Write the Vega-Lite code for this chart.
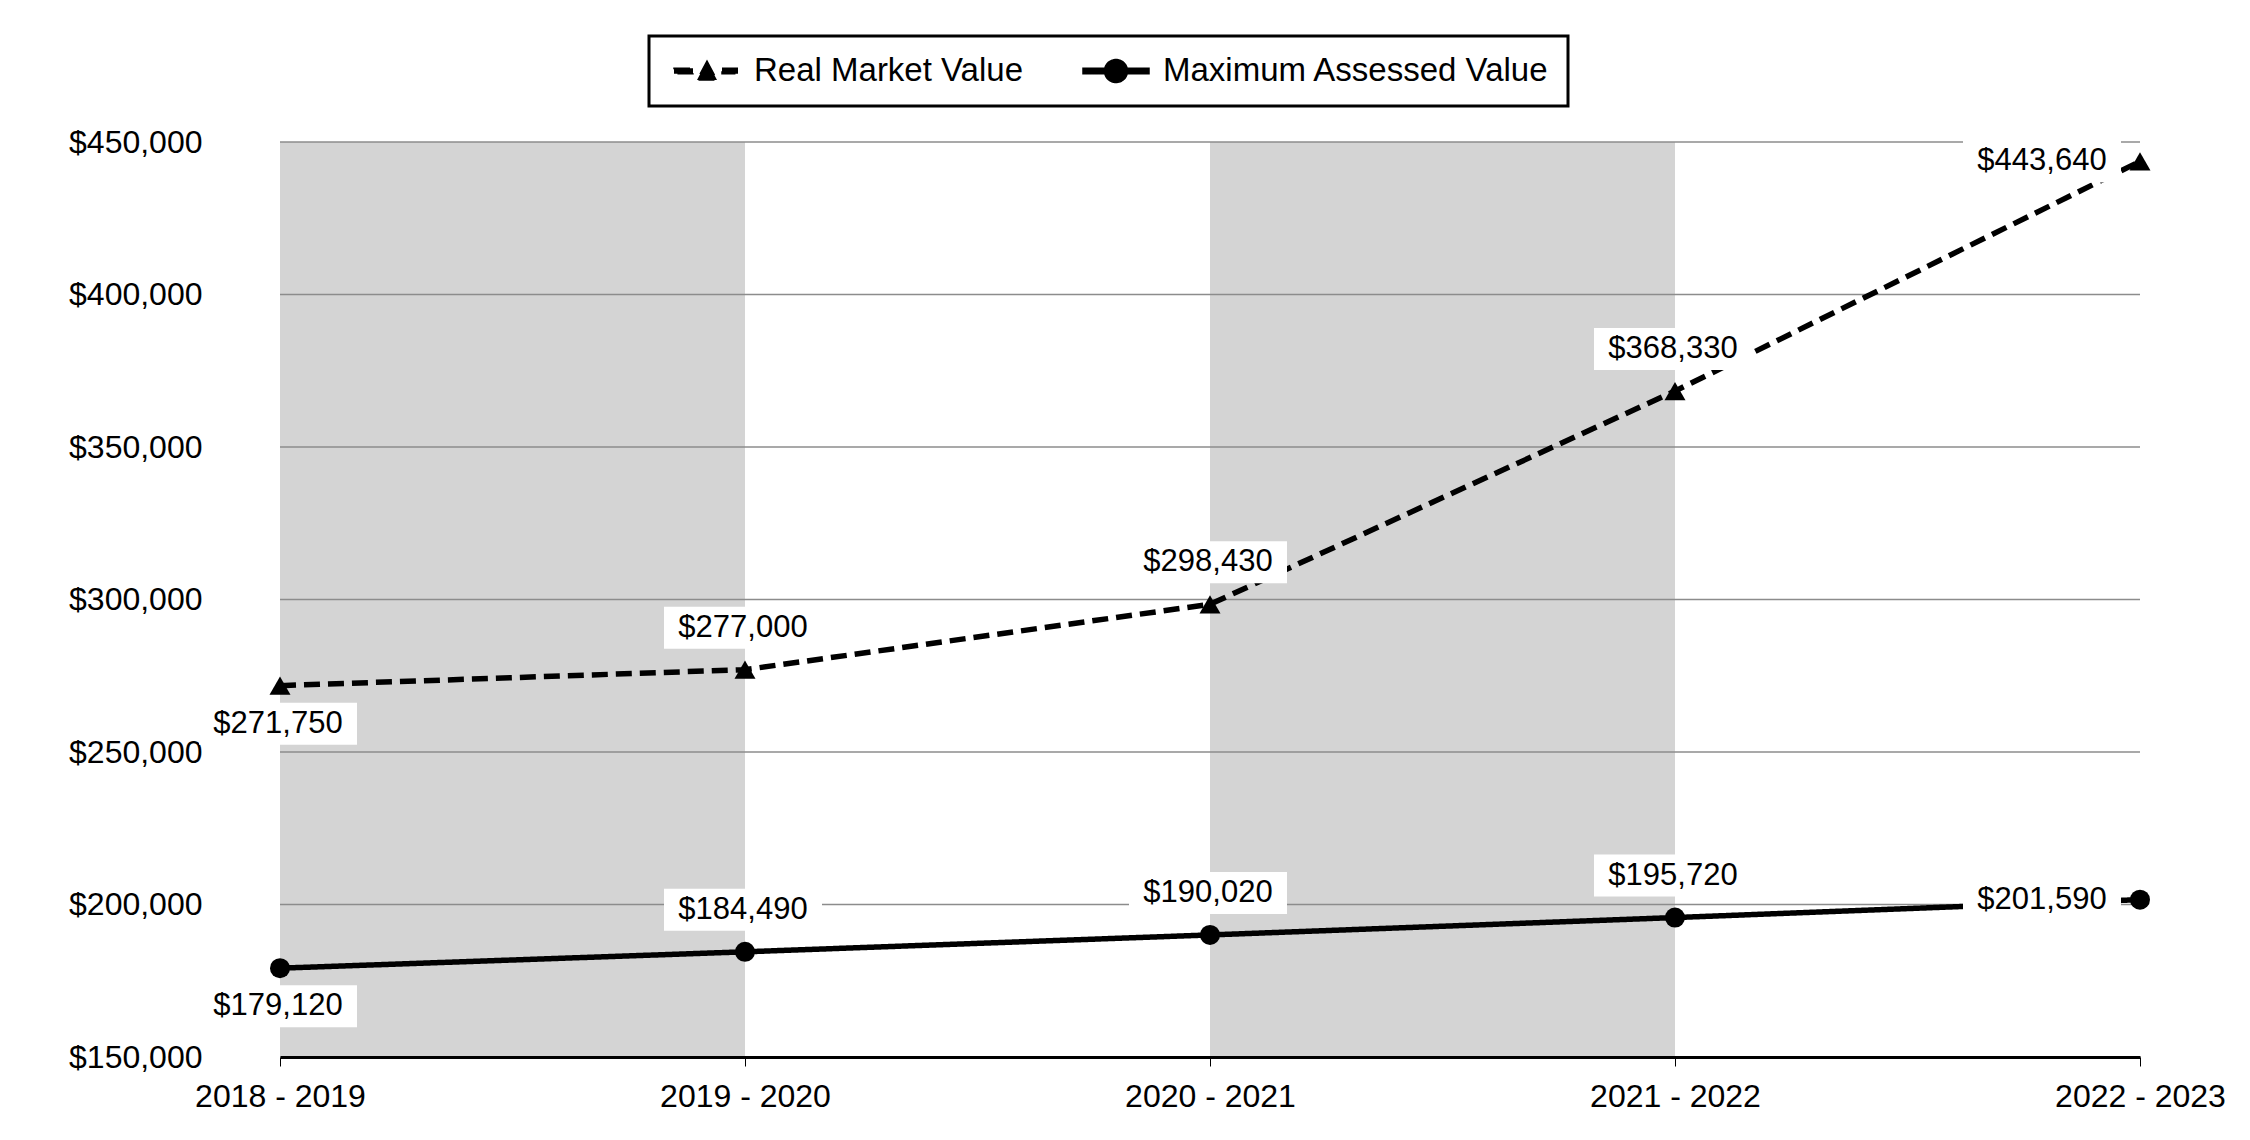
{
  "$schema": "https://vega.github.io/schema/vega-lite/v6.json",
  "width": 1860,
  "height": 915,
  "autosize": {"type": "none"},
  "padding": {"left": 280, "top": 142, "right": 110, "bottom": 83},
  "background": "white",
  "config": {
    "view": {"stroke": null},
    "font": "Liberation Sans",
    "axisX": {"labelAngle": 0, "grid": false, "domainColor": "black", "domainWidth": 3, "tickColor": "black", "tickSize": 9, "tickWidth": 1, "labelFontSize": 32, "labelPadding": 15, "labelFont": "Liberation Sans", "labelColor": "black", "labelOverlap": false, "labelBound": false, "labelFlush": false},
    "axisY": {"domain": false, "ticks": false, "tickSize": 0, "grid": false, "labelPadding": 78, "labelFontSize": 32, "labelFont": "Liberation Sans", "labelColor": "black", "labelOverlap": false, "labelBound": false}
  },
  "datasets": {
    "vals": [
      {"year": "2018 - 2019", "series": "Real Market Value", "value": 271750},
      {"year": "2019 - 2020", "series": "Real Market Value", "value": 277000},
      {"year": "2020 - 2021", "series": "Real Market Value", "value": 298430},
      {"year": "2021 - 2022", "series": "Real Market Value", "value": 368330},
      {"year": "2022 - 2023", "series": "Real Market Value", "value": 443640},
      {"year": "2018 - 2019", "series": "Maximum Assessed Value", "value": 179120},
      {"year": "2019 - 2020", "series": "Maximum Assessed Value", "value": 184490},
      {"year": "2020 - 2021", "series": "Maximum Assessed Value", "value": 190020},
      {"year": "2021 - 2022", "series": "Maximum Assessed Value", "value": 195720},
      {"year": "2022 - 2023", "series": "Maximum Assessed Value", "value": 201590}
    ],
    "bands": [
      {"year": "2018 - 2019", "year2": "2019 - 2020"},
      {"year": "2020 - 2021", "year2": "2021 - 2022"}
    ],
    "grid": [
      {"value": 200000}, {"value": 250000}, {"value": 300000}, {"value": 350000}, {"value": 400000}, {"value": 450000}
    ]
  },
  "layer": [
    {
      "data": {"name": "bands"},
      "mark": {"type": "rect", "color": "#d4d4d4"},
      "encoding": {
        "x": {"field": "year", "type": "ordinal", "scale": {"type": "point", "padding": 0, "domain": ["2018 - 2019", "2019 - 2020", "2020 - 2021", "2021 - 2022", "2022 - 2023"]}, "axis": {"title": null}},
        "x2": {"field": "year2"},
        "y": {"value": 0},
        "y2": {"value": "height"}
      }
    },
    {
      "data": {"name": "grid"},
      "mark": {"type": "rule", "color": "#8c8c8c", "strokeWidth": 1.3},
      "encoding": {
        "y": {"field": "value", "type": "quantitative", "scale": {"domain": [150000, 450000], "nice": false, "zero": false}, "axis": {"title": null, "format": "$,.0f", "values": [150000, 200000, 250000, 300000, 350000, 400000, 450000]}}
      }
    },
    {
      "data": {"name": "vals"},
      "mark": {"type": "line", "strokeWidth": 5.5, "strokeCap": "butt"},
      "encoding": {
        "x": {"field": "year", "type": "ordinal", "scale": {"type": "point", "padding": 0, "domain": ["2018 - 2019", "2019 - 2020", "2020 - 2021", "2021 - 2022", "2022 - 2023"]}, "axis": {"title": null}},
        "y": {"field": "value", "type": "quantitative", "scale": {"domain": [150000, 450000], "nice": false, "zero": false}, "axis": {"title": null, "format": "$,.0f", "values": [150000, 200000, 250000, 300000, 350000, 400000, 450000]}},
        "color": {
          "field": "series", "type": "nominal",
          "scale": {"domain": ["Real Market Value", "Maximum Assessed Value"], "range": ["black", "black"]},
          "legend": {
            "title": null, "orient": "none", "legendX": 369, "legendY": -106, "direction": "horizontal",
            "labelFontSize": 33, "labelFont": "Liberation Sans", "labelColor": "black", "labelBaseline": "middle", "labelLimit": 800,
            "symbolSize": 1024, "labelOffset": 53, "columnPadding": 52, "padding": 18,
            "strokeColor": "black", "fillColor": "white",
            "encode": {
              "legend": {"update": {"strokeWidth": {"value": 3}, "width": {"value": 917}}},
              "symbols": {"update": {
                "fill": {"value": "black"},
                "stroke": {"value": "transparent"},
                "strokeDash": {"value": [1, 0]},
                "opacity": {"value": 1},
                "shape": [
                  {"test": "datum.value === 'Real Market Value'", "value": "M-0.625,-0.17H0.5625V0.17H-0.625Z M1.4375,-0.625L2.0625,0.5625L0.8125,0.5625Z M2.375,-0.17H3.375V0.17H2.375Z"},
                  {"value": "M-0.625,-0.17H0.8V0.17H-0.625Z M2.08,-0.17H3.5V0.17H2.08Z M0.7187,0A0.7187,0.7187 0 1,1 2.1562,0A0.7187,0.7187 0 1,1 0.7187,0Z"}
                ]
              }}
            }
          }
        },
        "strokeDash": {
          "field": "series", "type": "nominal",
          "scale": {"domain": ["Real Market Value", "Maximum Assessed Value"], "range": [[16, 8], [1, 0]]},
          "legend": null
        }
      }
    },
    {
      "data": {"name": "vals"},
      "transform": [{"filter": "datum.year === '2019 - 2020' || datum.year === '2020 - 2021' || datum.year === '2021 - 2022'"}],
      "mark": {"type": "point", "filled": true, "color": "white", "opacity": 1, "strokeWidth": 0, "size": 4, "shape": "M-81,-63H77V-21H-81Z"},
      "encoding": {
        "x": {"field": "year", "type": "ordinal", "scale": {"type": "point", "padding": 0, "domain": ["2018 - 2019", "2019 - 2020", "2020 - 2021", "2021 - 2022", "2022 - 2023"]}, "axis": {"title": null}},
        "y": {"field": "value", "type": "quantitative", "scale": {"domain": [150000, 450000], "nice": false, "zero": false}, "axis": {"title": null, "format": "$,.0f", "values": [150000, 200000, 250000, 300000, 350000, 400000, 450000]}}
      }
    },
    {
      "data": {"name": "vals"},
      "transform": [{"filter": "datum.year === '2018 - 2019'"}],
      "mark": {"type": "point", "filled": true, "color": "white", "opacity": 1, "strokeWidth": 0, "size": 4, "shape": "M-81,17H77V59H-81Z"},
      "encoding": {
        "x": {"field": "year", "type": "ordinal", "scale": {"type": "point", "padding": 0, "domain": ["2018 - 2019", "2019 - 2020", "2020 - 2021", "2021 - 2022", "2022 - 2023"]}, "axis": {"title": null}},
        "y": {"field": "value", "type": "quantitative", "scale": {"domain": [150000, 450000], "nice": false, "zero": false}, "axis": {"title": null, "format": "$,.0f", "values": [150000, 200000, 250000, 300000, 350000, 400000, 450000]}}
      }
    },
    {
      "data": {"name": "vals"},
      "transform": [{"filter": "datum.year === '2022 - 2023'"}],
      "mark": {"type": "point", "filled": true, "color": "white", "opacity": 1, "strokeWidth": 0, "size": 4, "shape": "M-177,-21H-19V21H-177Z"},
      "encoding": {
        "x": {"field": "year", "type": "ordinal", "scale": {"type": "point", "padding": 0, "domain": ["2018 - 2019", "2019 - 2020", "2020 - 2021", "2021 - 2022", "2022 - 2023"]}, "axis": {"title": null}},
        "y": {"field": "value", "type": "quantitative", "scale": {"domain": [150000, 450000], "nice": false, "zero": false}, "axis": {"title": null, "format": "$,.0f", "values": [150000, 200000, 250000, 300000, 350000, 400000, 450000]}}
      }
    },
    {
      "data": {"name": "vals"},
      "transform": [{"filter": "datum.year === '2019 - 2020' || datum.year === '2020 - 2021' || datum.year === '2021 - 2022'"}],
      "mark": {"type": "text", "font": "Liberation Sans", "fontSize": 31, "color": "black", "align": "center", "baseline": "middle", "dx": -2, "dy": -42},
      "encoding": {
        "x": {"field": "year", "type": "ordinal", "scale": {"type": "point", "padding": 0, "domain": ["2018 - 2019", "2019 - 2020", "2020 - 2021", "2021 - 2022", "2022 - 2023"]}, "axis": {"title": null}},
        "y": {"field": "value", "type": "quantitative", "scale": {"domain": [150000, 450000], "nice": false, "zero": false}, "axis": {"title": null, "format": "$,.0f", "values": [150000, 200000, 250000, 300000, 350000, 400000, 450000]}},
        "text": {"field": "value", "type": "quantitative", "format": "$,.0f"}
      }
    },
    {
      "data": {"name": "vals"},
      "transform": [{"filter": "datum.year === '2018 - 2019'"}],
      "mark": {"type": "text", "font": "Liberation Sans", "fontSize": 31, "color": "black", "align": "center", "baseline": "middle", "dx": -2, "dy": 38},
      "encoding": {
        "x": {"field": "year", "type": "ordinal", "scale": {"type": "point", "padding": 0, "domain": ["2018 - 2019", "2019 - 2020", "2020 - 2021", "2021 - 2022", "2022 - 2023"]}, "axis": {"title": null}},
        "y": {"field": "value", "type": "quantitative", "scale": {"domain": [150000, 450000], "nice": false, "zero": false}, "axis": {"title": null, "format": "$,.0f", "values": [150000, 200000, 250000, 300000, 350000, 400000, 450000]}},
        "text": {"field": "value", "type": "quantitative", "format": "$,.0f"}
      }
    },
    {
      "data": {"name": "vals"},
      "transform": [{"filter": "datum.year === '2022 - 2023'"}],
      "mark": {"type": "text", "font": "Liberation Sans", "fontSize": 31, "color": "black", "align": "center", "baseline": "middle", "dx": -98, "dy": 0},
      "encoding": {
        "x": {"field": "year", "type": "ordinal", "scale": {"type": "point", "padding": 0, "domain": ["2018 - 2019", "2019 - 2020", "2020 - 2021", "2021 - 2022", "2022 - 2023"]}, "axis": {"title": null}},
        "y": {"field": "value", "type": "quantitative", "scale": {"domain": [150000, 450000], "nice": false, "zero": false}, "axis": {"title": null, "format": "$,.0f", "values": [150000, 200000, 250000, 300000, 350000, 400000, 450000]}},
        "text": {"field": "value", "type": "quantitative", "format": "$,.0f"}
      }
    },
    {
      "data": {"name": "vals"},
      "transform": [{"filter": "datum.series === 'Real Market Value'"}],
      "mark": {"type": "point", "filled": true, "color": "black", "opacity": 1, "strokeWidth": 0, "size": 441, "shape": "triangle-up"},
      "encoding": {
        "x": {"field": "year", "type": "ordinal", "scale": {"type": "point", "padding": 0, "domain": ["2018 - 2019", "2019 - 2020", "2020 - 2021", "2021 - 2022", "2022 - 2023"]}, "axis": {"title": null}},
        "y": {"field": "value", "type": "quantitative", "scale": {"domain": [150000, 450000], "nice": false, "zero": false}, "axis": {"title": null, "format": "$,.0f", "values": [150000, 200000, 250000, 300000, 350000, 400000, 450000]}}
      }
    },
    {
      "data": {"name": "vals"},
      "transform": [{"filter": "datum.series === 'Maximum Assessed Value'"}],
      "mark": {"type": "point", "filled": true, "color": "black", "opacity": 1, "strokeWidth": 0, "size": 400, "shape": "circle"},
      "encoding": {
        "x": {"field": "year", "type": "ordinal", "scale": {"type": "point", "padding": 0, "domain": ["2018 - 2019", "2019 - 2020", "2020 - 2021", "2021 - 2022", "2022 - 2023"]}, "axis": {"title": null}},
        "y": {"field": "value", "type": "quantitative", "scale": {"domain": [150000, 450000], "nice": false, "zero": false}, "axis": {"title": null, "format": "$,.0f", "values": [150000, 200000, 250000, 300000, 350000, 400000, 450000]}}
      }
    }
  ]
}
